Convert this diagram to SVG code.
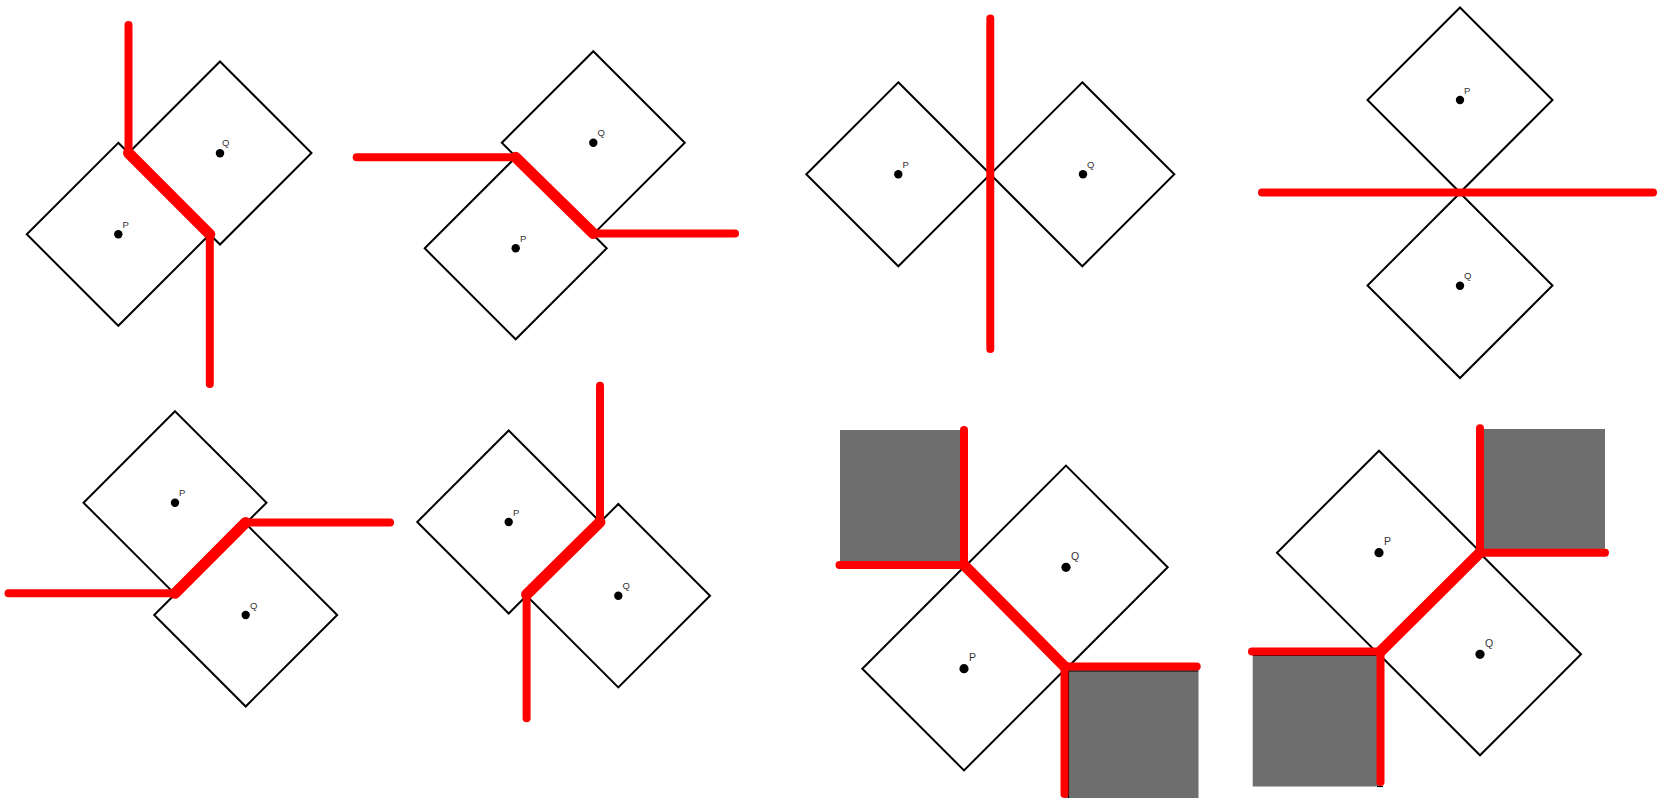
<svg xmlns="http://www.w3.org/2000/svg" width="1664" height="798" viewBox="0 0 1664 798">
<style>
.sq{fill:none;stroke:#000;stroke-width:2;stroke-linejoin:miter}
.dot{fill:#000}
.lbl{font-family:"Liberation Sans",Arial,sans-serif;font-size:9.5px;fill:#333}
.lbl2{font-family:"Liberation Sans",Arial,sans-serif;font-size:10.5px;fill:#333}
.red{fill:none;stroke:#ff0000;stroke-width:8;stroke-linecap:round;stroke-linejoin:round}
.redd{fill:none;stroke:#ff0000;stroke-width:11;stroke-linecap:round;stroke-linejoin:round}
.gray{fill:#6e6e6e}
.edge{fill:none;stroke:#000;stroke-width:1.2}
</style>
<rect width="1664" height="798" fill="#fff"/>

<g id="obstacles">
<rect class="gray" x="840" y="430" width="124" height="135"/>
<rect class="gray" x="1064.5" y="666.5" width="134" height="131.5"/>
<polyline class="edge" points="1068.5,798 1068.5,671 1198,671"/>
<rect class="gray" x="1480" y="429" width="125" height="123.7"/>
<rect class="gray" x="1252.7" y="651.5" width="128" height="135"/>
<polyline class="edge" points="1253,655.5 1377,655.5"/>
<polyline class="edge" points="1377,786.5 1383,786.5"/>
</g>

<g id="panel1">
<g id="p1-P"><polygon class="sq" points="118.3,142.8 209.8,234.3 118.3,325.8 26.8,234.3"/><circle class="dot" cx="118.3" cy="234.3" r="4.2"/><text class="lbl" x="122.5" y="227.5">P</text></g>
<g id="p1-Q"><polygon class="sq" points="220,61.5 311.5,153 220,244.5 128.5,153"/><circle class="dot" cx="220" cy="153.3" r="4.2"/><text class="lbl" x="222" y="146">Q</text></g>
</g>

<g id="panel2">
<g id="p2-P"><polygon class="sq" points="515.7,157.3 606.7,248.3 515.7,339.3 424.7,248.3"/><circle class="dot" cx="515.7" cy="248.3" r="4.2"/><text class="lbl" x="520" y="241.5">P</text></g>
<g id="p2-Q"><polygon class="sq" points="593.3,51.2 684.8,142.7 593.3,234.2 501.8,142.7"/><circle class="dot" cx="593.3" cy="142.7" r="4.2"/><text class="lbl" x="597.5" y="136">Q</text></g>
</g>

<g id="panel3">
<g id="p3-P"><polygon class="sq" points="898.3,82.3 990.3,174.3 898.3,266.3 806.3,174.3"/><circle class="dot" cx="898.3" cy="174.3" r="4.2"/><text class="lbl" x="902.5" y="167.5">P</text></g>
<g id="p3-Q"><polygon class="sq" points="1082.3,82.3 1174.3,174.3 1082.3,266.3 990.3,174.3"/><circle class="dot" cx="1083" cy="174.3" r="4.2"/><text class="lbl" x="1087" y="167.5">Q</text></g>
</g>

<g id="panel4">
<g id="p4-P"><polygon class="sq" points="1460,7.5 1552.5,100 1460,192.5 1367.5,100"/><circle class="dot" cx="1460" cy="100" r="4.2"/><text class="lbl" x="1464" y="93.5">P</text></g>
<g id="p4-Q"><polygon class="sq" points="1460,193 1552.5,285.5 1460,378 1367.5,285.5"/><circle class="dot" cx="1460" cy="285.7" r="4.2"/><text class="lbl" x="1464" y="279">Q</text></g>
</g>

<g id="panel5">
<g id="p5-P"><polygon class="sq" points="175,411.2 266.5,502.7 175,594.2 83.5,502.7"/><circle class="dot" cx="175" cy="502.7" r="4.2"/><text class="lbl" x="179" y="496">P</text></g>
<g id="p5-Q"><polygon class="sq" points="245.7,523.5 337.2,615 245.7,706.5 154.2,615"/><circle class="dot" cx="245.7" cy="615" r="4.2"/><text class="lbl" x="250" y="608.5">Q</text></g>
</g>

<g id="panel6">
<g id="p6-P"><polygon class="sq" points="508.7,430.5 600.2,522 508.7,613.5 417.2,522"/><circle class="dot" cx="508.7" cy="522" r="4.2"/><text class="lbl" x="513" y="515.5">P</text></g>
<g id="p6-Q"><polygon class="sq" points="618.3,504 710,595.7 618.3,687.4 526.6,595.7"/><circle class="dot" cx="618.3" cy="595.7" r="4.2"/><text class="lbl" x="622.5" y="589">Q</text></g>
</g>

<g id="panel7">
<g id="p7-P"><polygon class="sq" points="964,567 1065.7,668.7 964,770.4 862.3,668.7"/><circle class="dot" cx="964" cy="668.7" r="4.6"/><text class="lbl2" x="969" y="661">P</text></g>
<g id="p7-Q"><polygon class="sq" points="1066,465.6 1167.7,567.3 1066,669 964.3,567.3"/><circle class="dot" cx="1066" cy="567.3" r="4.6"/><text class="lbl2" x="1071" y="560">Q</text></g>
</g>

<g id="panel8">
<g id="p8-P"><polygon class="sq" points="1379,450.7 1481,552.7 1379,654.7 1277,552.7"/><circle class="dot" cx="1379" cy="552.7" r="4.6"/><text class="lbl2" x="1384" y="545">P</text></g>
<g id="p8-Q"><polygon class="sq" points="1480,553.3 1581,654.3 1480,755.3 1379,654.3"/><circle class="dot" cx="1480" cy="654.3" r="4.6"/><text class="lbl2" x="1485" y="647">Q</text></g>
</g>

<g id="connectors">
<polyline class="red" points="128.5,25 128.5,153"/>
<polyline class="redd" points="128.5,153 209.8,234.3"/>
<polyline class="red" points="209.8,234.3 209.8,384"/>

<polyline class="red" points="356.7,157.3 515.7,157.3"/>
<polyline class="redd" points="515.7,157.3 593.3,233.5"/>
<polyline class="red" points="593.3,233.5 735,233.5"/>

<polyline class="red" points="990.3,18.5 990.3,349"/>

<polyline class="red" points="1262,192.5 1653,192.5"/>

<polyline class="red" points="8.5,593.3 175,593.3"/>
<polyline class="redd" points="175,593.3 245.7,522.5"/>
<polyline class="red" points="245.7,522.5 390,522.5"/>

<polyline class="red" points="600,385.7 600,522"/>
<polyline class="redd" points="600,522 526.6,594.5"/>
<polyline class="red" points="526.6,594.5 526.6,718.3"/>

<polyline class="red" points="964,430 964,565"/>
<polyline class="red" points="839.5,565 964,565"/>
<polyline class="redd" points="964,565 1064.5,666.5"/>
<polyline class="red" points="1064.5,666.5 1196.7,666.5"/>
<polyline class="red" points="1064.5,666.5 1064.5,794"/>

<polyline class="red" points="1480,428.3 1480,552.7"/>
<polyline class="red" points="1480,552.7 1605,552.7"/>
<polyline class="redd" points="1480,552.7 1380.5,651.5"/>
<polyline class="red" points="1252,651.5 1380.5,651.5"/>
<polyline class="red" points="1380.5,651.5 1380.5,782"/>
</g>
</svg>
